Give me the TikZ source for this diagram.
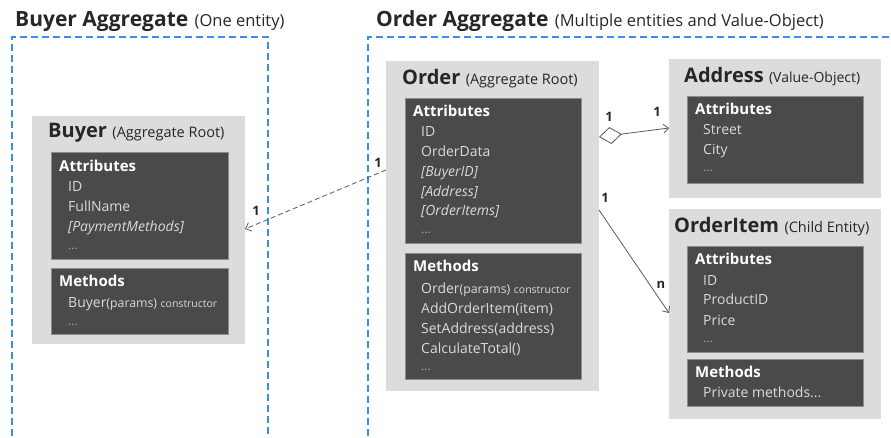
\documentclass[tikz,border=0pt]{standalone}
\usepackage{fontspec}
\setmainfont{Open Sans}
\usetikzlibrary{arrows.meta,calc}
\definecolor{aggblue}{HTML}{3C8CF0}
\definecolor{panelgray}{HTML}{DCDCDC}
\definecolor{darkfill}{HTML}{4A4A4A}
\definecolor{darkedge}{HTML}{8C8C8C}
\definecolor{itemgray}{HTML}{DADADA}
\definecolor{dotgray}{HTML}{A8A8A8}
\definecolor{linegray}{HTML}{5A5A5A}
\newcommand{\fs}[1]{\fontsize{#1}{#1}\selectfont}
\begin{document}
\begin{tikzpicture}[x=1pt,y=-1pt,
  aggbox/.style={draw=aggblue,line width=1.1pt,dash pattern=on 7pt off 4pt},
  panel/.style={fill=panelgray,inner sep=0,outer sep=0,anchor=north west},
  darkbox/.style={fill=darkfill,draw=darkedge,line width=0.8pt,inner sep=0,outer sep=0,anchor=north west},
  bigttl/.style={font=\bfseries\fs{21},text=black!85,anchor=base west,inner sep=0},
  bigsub/.style={font=\fs{16.5},text=black!85,anchor=base west,inner sep=0},
  ttl/.style={font=\bfseries\fs{20},text=black!85,anchor=base west,inner sep=0},
  sub/.style={font=\fs{14.5},text=black!85,anchor=base west,inner sep=0},
  hdr/.style={font=\bfseries\fs{15},text=white,anchor=base west,inner sep=0},
  itm/.style={font=\fs{14},text=itemgray,anchor=base west,inner sep=0},
  dots/.style={font=\fs{12},text=dotgray,anchor=base west,inner sep=0},
  mult/.style={font=\bfseries\fs{13},text=black!85,inner sep=0},
  conn/.style={draw=linegray,line width=0.8pt}
]
\useasboundingbox (0,0) rectangle (891,438);

% aggregate boundaries
\draw[aggbox] (12,436) -- (12,37) -- (268,37) -- (268,436);
\draw[aggbox] (368,436) -- (368,37) -- (893,37);
\node[bigttl] (tb) at (15,27) {Buyer Aggregate};
\node[bigsub] (tbs) at ([xshift=6pt]tb.base east) {(One entity)};
\node[bigttl] (to) at (376,27) {Order Aggregate};
\node[bigsub] (tos) at ([xshift=6pt]to.base east) {(Multiple entities and Value-Object)};

% ---------- Buyer ----------
\node[panel,minimum width=213pt,minimum height=228pt] (buyer) at (32,116) {};
\node[ttl] (buyerT) at (48,138) {Buyer};
\node[sub] (buyerS) at ([xshift=5pt]buyerT.base east) {(Aggregate Root)};
\node[darkbox,minimum width=177pt,minimum height=107pt] (buyerA) at (51,152) {};
\node[hdr] (buyerAh) at (59,172) {Attributes};
\foreach \t [count=\i] in {ID,FullName,\textit{[PaymentMethods]}}
  \node[itm] (buyerA\i) at (68,{172+20*\i}) {\t};
\node[dots] (buyerAd) at (68,250) {...};
\node[darkbox,minimum width=177pt,minimum height=66pt] (buyerM) at (51,268) {};
\node[hdr] (buyerMh) at (59,287) {Methods};
\node[itm] (buyerM1) at (68,307) {Buyer{\fs{12.3}(params)} {\fs{10.5}constructor}};
\node[dots] (buyerMd) at (68,325) {...};

% ---------- Order ----------
\node[panel,minimum width=213pt,minimum height=330pt] (order) at (386,61) {};
\node[ttl] (orderT) at (402,85) {Order};
\node[sub] (orderS) at ([xshift=5pt]orderT.base east) {(Aggregate Root)};
\node[darkbox,minimum width=176pt,minimum height=145pt] (orderA) at (405,98) {};
\node[hdr] (orderAh) at (413,117) {Attributes};
\foreach \t [count=\i] in {ID,OrderData,\textit{[BuyerID]},\textit{[Address]},\textit{[OrderItems]}}
  \node[itm] (orderA\i) at (421,{117+19.8*\i}) {\t};
\node[dots] (orderAd) at (421,234) {...};
\node[darkbox,minimum width=176pt,minimum height=126pt] (orderM) at (405,253) {};
\node[hdr] (orderMh) at (413,272) {Methods};
\node[itm] (orderM1) at (421,293) {Order{\fs{12.3}(params)} {\fs{10.5}constructor}};
\foreach \t [count=\i from 2] in {AddOrderItem(item),SetAddress(address),CalculateTotal()}
  \node[itm] (orderM\i) at (421,{273+20*\i}) {\t};
\node[dots] (orderMd) at (421,370) {...};

% ---------- Address ----------
\node[panel,minimum width=212pt,minimum height=139pt] (address) at (669,59) {};
\node[ttl] (addrT) at (684,83) {Address};
\node[sub,font=\fs{14}] (addrS) at ([xshift=5pt]addrT.base east) {(Value-Object)};
\node[darkbox,minimum width=176pt,minimum height=87pt] (addrA) at (687,96) {};
\node[hdr] (addrAh) at (695,115) {Attributes};
\foreach \t [count=\i] in {Street,City}
  \node[itm] (addrA\i) at (703,{115+20*\i}) {\t};
\node[dots] (addrAd) at (703,172) {...};

% ---------- OrderItem ----------
\node[panel,minimum width=212pt,minimum height=210pt] (item) at (669,209) {};
\node[ttl] (itemT) at (674,233) {OrderItem};
\node[sub] (itemS) at ([xshift=5pt]itemT.base east) {(Child Entity)};
\node[darkbox,minimum width=176pt,minimum height=106pt] (itemA) at (687,246) {};
\node[hdr] (itemAh) at (695,265) {Attributes};
\foreach \t [count=\i] in {ID,ProductID,Price}
  \node[itm] (itemA\i) at (703,{265+20*\i}) {\t};
\node[dots] (itemAd) at (703,342) {...};
\node[darkbox,minimum width=176pt,minimum height=47pt] (itemM) at (687,359) {};
\node[hdr] (itemMh) at (695,377) {Methods};
\node[itm] (itemM1) at (703,397) {Private methods...};

% ---------- connectors ----------
\draw[conn,dashed,dash pattern=on 5pt off 3pt,-{Straight Barb[length=5pt,width=9pt]}]
  ([yshift=-109pt]order.north west) -- ([yshift=-113pt]buyer.north east);
\node[mult] (m1) at (378,163) {1};
\node[mult] (m2) at (256,211) {1};

\draw[conn,{Diamond[open,length=23pt,width=17pt,fill=white]}-{Straight Barb[length=5pt,width=9pt]}]
  ([yshift=-76pt]order.north east) -- ([yshift=-69pt]address.north west);
\node[mult] (m3) at (609,117) {1};
\node[mult] (m4) at (657,112) {1};

\draw[conn,-{Straight Barb[length=5pt,width=9pt]}]
  ([yshift=-149pt]order.north east) -- ([yshift=-104pt]item.north west);
\node[mult] (m5) at (605,198) {1};
\node[mult] (m6) at (661,285) {n};
\end{tikzpicture}
\end{document}
